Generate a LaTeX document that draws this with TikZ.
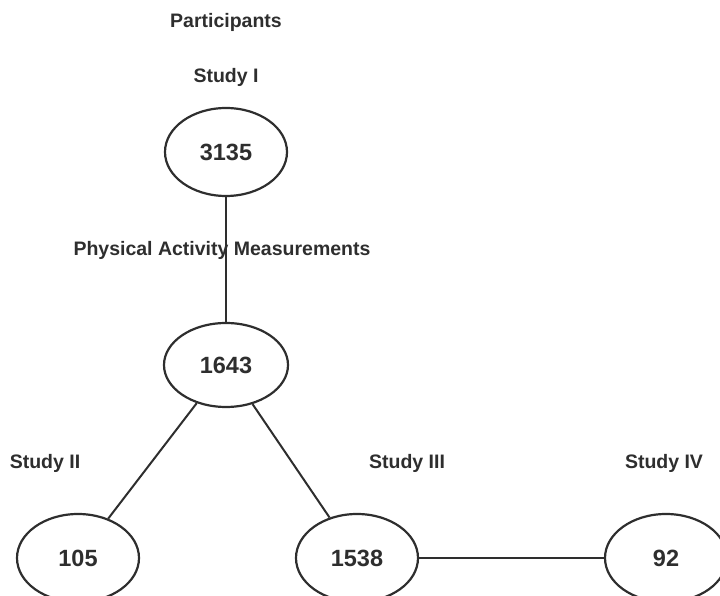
\documentclass[tikz,border=0pt]{standalone}
\usepackage{fontspec}
\setmainfont{Liberation Sans}
\usetikzlibrary{shapes.geometric}
\definecolor{sdark}{HTML}{2E2E2E}
\tikzset{
  cnode/.style={ellipse, draw=sdark, line width=2.2pt, text=sdark,
                minimum width=122pt, minimum height=88pt, inner sep=0pt,
                font=\fontsize{23.5}{26}\selectfont\bfseries},
  lbl/.style={text=sdark, inner sep=0pt,
              font=\fontsize{19.5}{22}\selectfont\bfseries},
  link/.style={draw=sdark, line width=2pt},
}
\begin{document}
\begin{tikzpicture}[x=1pt, y=1pt]
    \clip (0,0) rectangle (720,596);

    \node[lbl] (part) at (226, 574) {Participants};
    \node[lbl] (st1) at (226, 519) {Study I};
    \node[cnode] (n3135) at (226, 444) {3135};

    \node[lbl] (pam) at (222, 346) {Physical Activity Measurements};
    \node[cnode, minimum width=124pt, minimum height=84pt] (n1643) at (226, 231) {1643};

    \node[lbl] (st2) at (45, 133) {Study II};
    \node[lbl] (st3) at (407, 133) {Study III};
    \node[lbl] (st4) at (664, 133) {Study IV};

    \node[cnode] (n105) at (78, 38) {105};
    \node[cnode] (n1538) at (357, 38) {1538};
    \node[cnode] (n92) at (666, 38) {92};

    \draw[link] (n3135) -- (n1643);
    \draw[link] (n1643) -- (n105);
    \draw[link] (n1643) -- (n1538);
    \draw[link] (n1538) -- (n92);
  \end{tikzpicture}
\end{document}
